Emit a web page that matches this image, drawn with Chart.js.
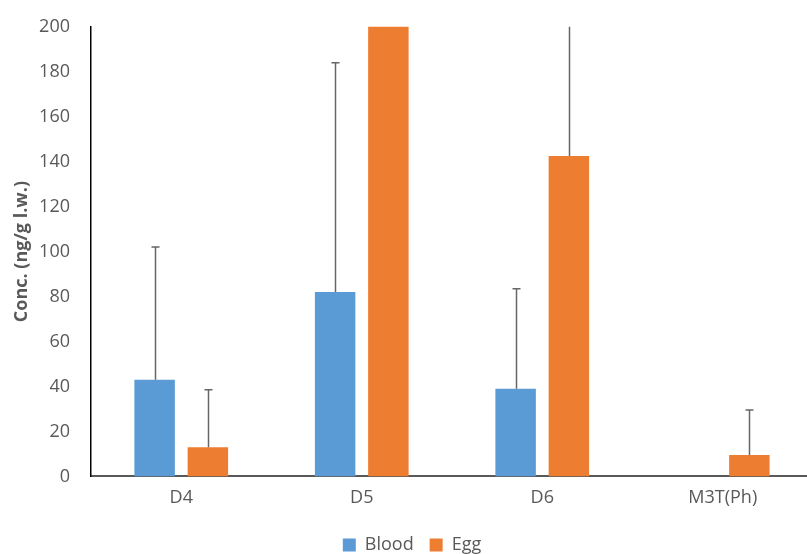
<!DOCTYPE html>
<html lang="en">
<head>
    <meta charset="UTF-8">
    <title>Siloxane Concentrations</title>
    <script src="https://cdn.jsdelivr.net/npm/chart.js"></script>
    <style>
        html, body { margin: 0; padding: 0; overflow: hidden; background: #fff; }
        #wrap { width: 813px; height: 569px; margin-top: -5px; }
    </style>
</head>

<body>
    <div id="wrap"><canvas id="concChart"></canvas></div>

    <script>
        // Categories and values
        const compounds = ['D4', 'D5', 'D6', 'M3T(Ph)'];
        const bloodMean = [43, 82, 39, null];
        const eggMean = [13, 215, 142.5, 9.5];
        // upper end of the error bars (mean + SD)
        const bloodUpper = [102, 184, 83.5, null];
        const eggUpper = [38.5, 290, 235, 29.5];
        const yTicks = [0, 20, 40, 60, 80, 100, 120, 140, 160, 180, 200];

        const textColor = '#595959';
        const fontFamily = "'Open Sans', 'Liberation Sans', sans-serif";

        // draws upward error bars, clipped to the plot area
        const errorBars = {
            id: 'errorBars',
            afterDatasetsDraw(chart) {
                const { ctx, chartArea, scales } = chart;
                ctx.save();
                ctx.beginPath();
                ctx.rect(chartArea.left, chartArea.top, chartArea.right - chartArea.left, chartArea.bottom - chartArea.top);
                ctx.clip();
                ctx.strokeStyle = '#666666';
                ctx.lineWidth = 1.5;
                chart.data.datasets.forEach((ds, i) => {
                    const meta = chart.getDatasetMeta(i);
                    meta.data.forEach((bar, j) => {
                        const hi = ds.upper[j];
                        if (hi == null || ds.data[j] == null) return;
                        const yTop = scales.y.getPixelForValue(hi);
                        const yBar = scales.y.getPixelForValue(ds.data[j]);
                        const x = Math.round(bar.x) + 0.5;
                        ctx.beginPath();
                        ctx.moveTo(x, yBar);
                        ctx.lineTo(x, yTop);
                        ctx.moveTo(x - 4, yTop);
                        ctx.lineTo(x + 4, yTop);
                        ctx.stroke();
                    });
                });
                ctx.restore();
            }
        };

        const ctx = document.getElementById('concChart').getContext('2d');
        const concChart = new Chart(ctx, {
            type: 'bar',
            data: {
                labels: compounds,
                datasets: [{
                    label: 'Blood',
                    data: bloodMean,
                    upper: bloodUpper,
                    backgroundColor: '#5B9BD5',
                    categoryPercentage: 0.59,
                    barPercentage: 0.76
                }, {
                    label: 'Egg',
                    data: eggMean,
                    upper: eggUpper,
                    backgroundColor: '#ED7D31',
                    categoryPercentage: 0.59,
                    barPercentage: 0.76
                }]
            },
            options: {
                responsive: true,
                maintainAspectRatio: false,
                animation: false,
                layout: { padding: { top: 5, right: 0, bottom: 0, left: 11 } },
                plugins: {
                    tooltip: { enabled: false },
                    legend: {
                        position: 'bottom',
                        labels: {
                            boxWidth: 13,
                            boxHeight: 13,
                            padding: 16,
                            color: textColor,
                            font: { family: fontFamily, size: 18 }
                        }
                    }
                },
                scales: {
                    x: {
                        grid: { display: false, drawTicks: false },
                        border: { color: '#595959', width: 2 },
                        ticks: { color: textColor, padding: 11, font: { family: fontFamily, size: 18 } }
                    },
                    y: {
                        min: 0,
                        max: 200,
                        afterBuildTicks(axis) { axis.ticks = yTicks.map(v => ({ value: v })); },
                        afterFit(axis) { axis.width = 80; },
                        grid: { display: false, drawTicks: false },
                        border: { color: '#000000', width: 1.5 },
                        ticks: { color: textColor, padding: 21, font: { family: fontFamily, size: 18 } },
                        title: {
                            display: true,
                            text: 'Conc. (ng/g l.w.)',
                            color: textColor,
                            padding: { top: 0, bottom: 0 },
                            font: { family: fontFamily, size: 18, weight: 'bold' }
                        }
                    }
                }
            },
            plugins: [errorBars]
        });
    </script>
</body>
</html>
